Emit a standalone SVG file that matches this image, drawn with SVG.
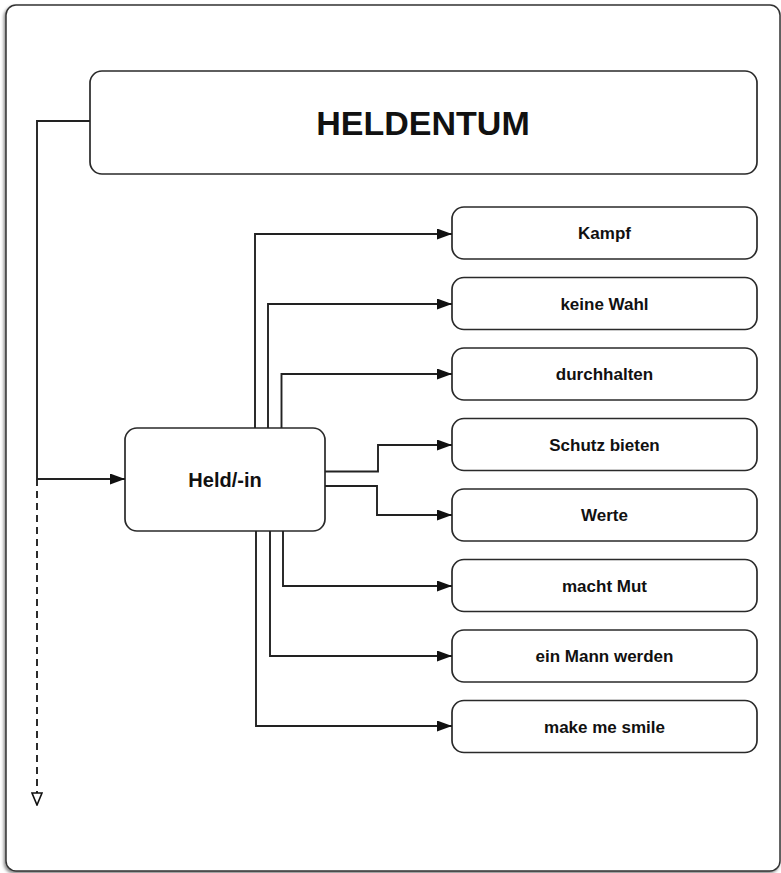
<svg xmlns="http://www.w3.org/2000/svg" width="781" height="873" viewBox="0 0 781 873">
  <defs>
    <filter id="shadow" x="-5%" y="-5%" width="110%" height="110%">
      <feDropShadow dx="-1.5" dy="2" stdDeviation="1.8" flood-color="#000" flood-opacity="0.45"/>
    </filter>
    <marker id="arrow" viewBox="0 0 15 11" refX="15" refY="5.5" markerWidth="15" markerHeight="11" markerUnits="userSpaceOnUse" orient="auto">
      <path d="M0,0 L15,5.5 L0,11 Z" fill="#111"/>
    </marker>
    <marker id="hollow" viewBox="0 0 14 12" refX="13" refY="6" markerWidth="14" markerHeight="12" markerUnits="userSpaceOnUse" orient="auto">
      <path d="M1,1 L13,6 L1,11 Z" fill="#fff" stroke="#111" stroke-width="1.6"/>
    </marker>
  </defs>
  <style>
    .frame { fill: #fff; stroke: #333; stroke-width: 1.5; }
    .node rect { fill: #fff; stroke: #2a2a2a; stroke-width: 1.7; }
    .node text { font-family: "Liberation Sans", Arial, Helvetica, sans-serif; font-weight: bold; fill: #111; text-anchor: middle; }
    .small text { font-size: 17px; }
    .conn path { fill: none; stroke: #222; stroke-width: 1.9; }
    .dashed { stroke-dasharray: 7 5; }
  </style>
  <rect width="781" height="873" fill="#fff"/>
  <rect class="frame" x="6" y="5" width="774" height="866" rx="10" filter="url(#shadow)"/>

  <g id="heldentum" class="node">
    <rect x="90" y="71" width="667" height="103" rx="12"/>
    <text x="423" y="135" font-size="34">HELDENTUM</text>
  </g>

  <g id="held" class="node">
    <rect x="125" y="428" width="200" height="103" rx="12"/>
    <text x="225" y="487" font-size="20">Held/-in</text>
  </g>

  <g id="kampf" class="node small">
    <rect x="452" y="207" width="305" height="52" rx="12"/>
    <text x="604.5" y="239">Kampf</text>
  </g>
  <g id="keine-wahl" class="node small">
    <rect x="452" y="277.5" width="305" height="52" rx="12"/>
    <text x="604.5" y="309.5">keine Wahl</text>
  </g>
  <g id="durchhalten" class="node small">
    <rect x="452" y="348" width="305" height="52" rx="12"/>
    <text x="604.5" y="380">durchhalten</text>
  </g>
  <g id="schutz-bieten" class="node small">
    <rect x="452" y="418.5" width="305" height="52" rx="12"/>
    <text x="604.5" y="450.5">Schutz bieten</text>
  </g>
  <g id="werte" class="node small">
    <rect x="452" y="489" width="305" height="52" rx="12"/>
    <text x="604.5" y="521">Werte</text>
  </g>
  <g id="macht-mut" class="node small">
    <rect x="452" y="559.5" width="305" height="52" rx="12"/>
    <text x="604.5" y="591.5">macht Mut</text>
  </g>
  <g id="ein-mann-werden" class="node small">
    <rect x="452" y="630" width="305" height="52" rx="12"/>
    <text x="604.5" y="662">ein Mann werden</text>
  </g>
  <g id="make-me-smile" class="node small">
    <rect x="452" y="700.5" width="305" height="52" rx="12"/>
    <text x="604.5" y="732.5">make me smile</text>
  </g>

  <g id="connectors" class="conn">
    <path d="M90,121 H37 V479 H125" marker-end="url(#arrow)"/>
    <path class="dashed" d="M37,479 V805" marker-end="url(#hollow)"/>
    <path d="M255,428 V234 H452" marker-end="url(#arrow)"/>
    <path d="M268,428 V304 H452" marker-end="url(#arrow)"/>
    <path d="M281.5,428 V374 H452" marker-end="url(#arrow)"/>
    <path d="M325,471.5 H378 V445 H452" marker-end="url(#arrow)"/>
    <path d="M325,486 H377 V515 H452" marker-end="url(#arrow)"/>
    <path d="M283,531 V586 H452" marker-end="url(#arrow)"/>
    <path d="M270,531 V656 H452" marker-end="url(#arrow)"/>
    <path d="M256,531 V726 H452" marker-end="url(#arrow)"/>
  </g>
</svg>
